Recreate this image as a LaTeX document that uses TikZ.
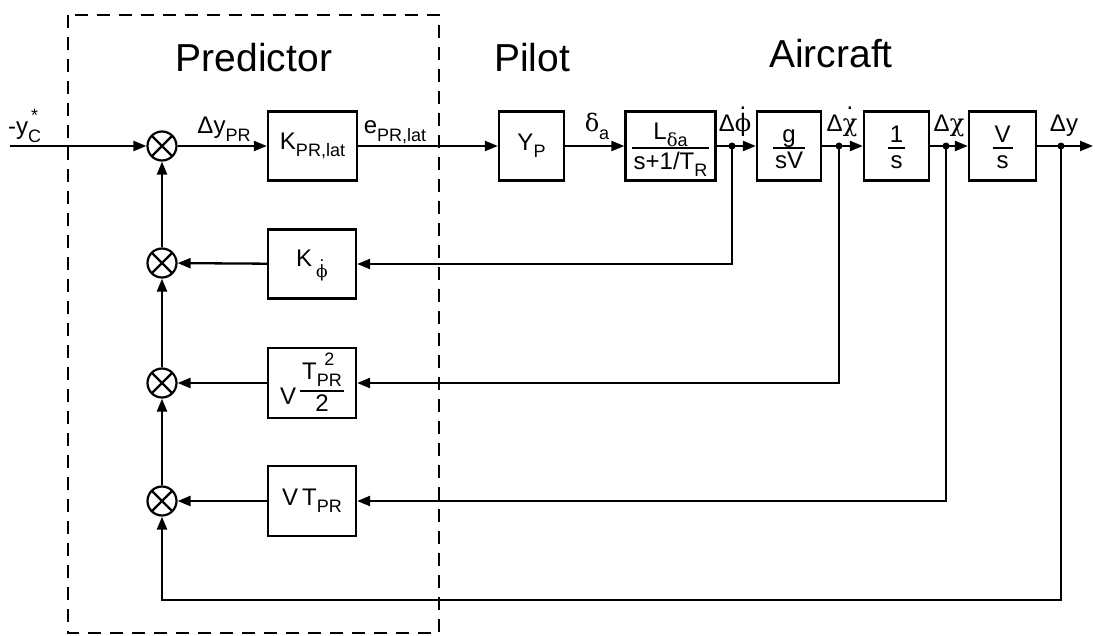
\documentclass[tikz,border=0pt]{standalone}
\usepackage{fontspec}
\setmainfont{Liberation Sans}
\newfontfamily\gk{DejaVu Serif}
\usetikzlibrary{arrows.meta}
\newcommand\sbs[1]{\raisebox{-0.3em}{\fontsize{18}{20}\selectfont #1}}
\newcommand\sps[1]{\raisebox{0.55em}{\fontsize{18}{20}\selectfont #1}}
\newcommand\subsup[2]{\ooalign{\sbs{#1}\cr\hidewidth\sps{#2}\hidewidth\cr}}
\newcommand\dotit[2][0.95em]{\ooalign{#2\cr\hidewidth\raisebox{#1}{.}\hidewidth\cr}}
% general fraction: num height, num depth, den height, den depth, num, den
\newcommand\frx[6]{$\vcenter{\offinterlineskip\halign{\hfil\kern2pt##\kern2pt\hfil\cr
  \vrule height #1 depth #2 width 0pt #5\cr\noalign{\hrule height 1.8pt}
  \vrule height #3 depth #4 width 0pt #6\cr}}$}
\newcommand\fr[2]{\frx{24pt}{5pt}{20pt}{5pt}{#1}{#2}}
\begin{document}
\begin{tikzpicture}[x=1pt,y=-1pt,
  blk/.style={draw, line width=2.3pt, minimum height=69pt, inner sep=0pt, font=\fontsize{24}{28}\selectfont},
  sumj/.style={circle, draw, line width=2.2pt, minimum size=29pt, inner sep=0pt,
    path picture={\draw[line width=2.2pt] (path picture bounding box.north west) -- (path picture bounding box.south east)
      (path picture bounding box.north east) -- (path picture bounding box.south west);}},
  arr/.style={line width=2.3pt, -{Triangle[length=13pt,width=10pt]}},
  lab/.style={font=\fontsize{24}{28}\selectfont, inner sep=0pt},
  ttl/.style={font=\fontsize{39}{44}\selectfont, inner sep=0pt, anchor=base}]
\useasboundingbox (0,0) rectangle (1095,636);
% predictor frame
\draw[line width=2.3pt, dash pattern=on 13pt off 9pt] (68,15) rectangle (439,633);
% titles
\node[ttl] (tpred) at (254,72) {Predictor};
\node[ttl] (tpil) at (532,72) {Pilot};
\node[ttl] (tair) at (831,68) {Aircraft};
% summing junctions
\node[sumj] (s1) at (162,146) {};
\node[sumj] (s2) at (162,263) {};
\node[sumj] (s3) at (162,383) {};
\node[sumj] (s4) at (162,501) {};
% blocks
\node[blk, minimum width=89pt] (kpr) at (312.5,146) {K\sbs{PR,lat}};
\node[blk, minimum width=65pt] (yp) at (531.5,146) {Y\sbs{P}};
\node[blk, minimum width=90pt] (lb) at (670.5,146) {\fr{L\sbs{{\gk δ}a}}{s+1/T\sbs{R}}};
\node[blk, minimum width=64pt] (gsv) at (789,146) {\fr{g}{sV}};
\node[blk, minimum width=65pt] (one) at (896.5,146) {\fr{1}{s}};
\node[blk, minimum width=67pt] (vs) at (1002.5,146) {\fr{V}{s}};
\node[blk, minimum width=88pt] (kphi) at (312,264) {K\,\raisebox{-0.45em}{\fontsize{17}{20}\selectfont\dotit{\gk ϕ}}};
\node[blk, minimum width=88pt, minimum height=70pt] (vt2) at (312,383) {\raisebox{-15pt}{V}\,\frx{28pt}{11pt}{20pt}{3pt}{T\subsup{PR}{2}}{2}};
\node[blk, minimum width=88pt, minimum height=70pt] (vt) at (312,501) {V\,T\sbs{PR}};
% coordinates
\coordinate (in) at (10,146);
\coordinate (d1) at (732,146);
\coordinate (d2) at (839,146);
\coordinate (d3) at (946,146);
\coordinate (d4) at (1061,146);
\coordinate (out) at (1093,146);
\coordinate (b2) at (162,600);
% forward path
\draw[arr] (in) -- (s1);
\draw[arr] (s1) -- (kpr);
\draw[arr] (kpr) -- (yp);
\draw[arr] (yp) -- (lb);
\draw[arr] (lb) -- (gsv);
\draw[arr] (gsv) -- (one);
\draw[arr] (one) -- (vs);
\draw[arr] (vs) -- (out);
% feedback
\draw[arr] (d1) |- (kphi);
\draw[arr] (d2) |- (vt2);
\draw[arr] (d3) |- (vt);
\draw[arr] (d4) |- (b2) -- (s4);
\draw[arr] (kphi) -- (s2);
\draw[arr] (vt2) -- (s3);
\draw[arr] (vt) -- (s4);
\draw[arr] (s2) -- (s1);
\draw[arr] (s3) -- (s2);
\draw[arr] (s4) -- (s3);
\foreach \d in {d1,d2,d3,d4} \fill (\d) circle (3.5pt);
% signal labels
\node[lab, anchor=base west] (lin) at (8,135) {-y\subsup{C}{*}};
\node[lab, anchor=base] (ldy) at (224,134) {Δy\sbs{PR}};
\node[lab, anchor=base] (le) at (395,134) {e\sbs{PR,lat}};
\node[lab, anchor=base] (lda) at (597,132) {{\gk δ}\sbs{a}};
\node[lab, anchor=base] (lphi) at (735,132) {Δ\dotit{\gk ϕ}};
\node[lab, anchor=base] (lchid) at (842,132) {Δ\dotit{\gk χ}};
\node[lab, anchor=base] (lchi) at (949,132) {Δ{\gk χ}};
\node[lab, anchor=base] (ly) at (1064,132) {Δy};
\end{tikzpicture}
\end{document}
